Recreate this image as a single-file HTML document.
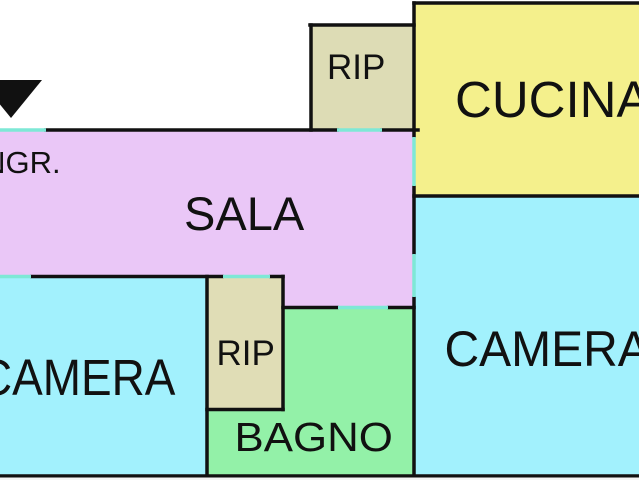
<!DOCTYPE html>
<html>
<head>
<meta charset="utf-8">
<style>
  html,body{margin:0;padding:0;background:#fff;}
  svg{display:block;}
  text{font-family:"Liberation Sans", Arial, sans-serif; fill:#111;}
</style>
</head>
<body>
<svg width="639" height="480" viewBox="0 0 639 480" xmlns="http://www.w3.org/2000/svg">
  <rect x="0" y="0" width="639" height="480" fill="#ffffff"/>
  <!-- fills -->
  <polygon points="0,130 414,130 414,307.5 283,307.5 283,276.5 0,276.5" fill="#eac7f7"/>
  <rect x="0" y="276.5" width="207" height="200" fill="#a2f1fd"/>
  <rect x="207" y="276.5" width="76" height="133" fill="#e0ddb6"/>
  <polygon points="207,409.5 283,409.5 283,307.5 414,307.5 414,476 207,476" fill="#93f1a8"/>
  <rect x="311" y="25" width="103" height="105" fill="#dddcb5"/>
  <rect x="414" y="3" width="225" height="193" fill="#f4f08c"/>
  <rect x="414" y="196" width="225" height="280" fill="#a2f1fd"/>

  <!-- walls -->
  <g stroke="#111" stroke-width="3.5" fill="none" stroke-linecap="square">
    <line x1="46" y1="130" x2="337" y2="130"/>
    <line x1="382" y1="130" x2="418" y2="130"/>
    <line x1="311" y1="25" x2="311" y2="130"/>
    <line x1="310" y1="25" x2="414" y2="25"/>
    <line x1="414" y1="3" x2="639" y2="3"/>
    <line x1="414" y1="3" x2="414" y2="136"/>
    <line x1="414" y1="187" x2="414" y2="253"/>
    <line x1="414" y1="298" x2="414" y2="476"/>
    <line x1="414" y1="196" x2="639" y2="196"/>
    <line x1="32" y1="276.5" x2="222" y2="276.5"/>
    <line x1="271" y1="276.5" x2="283" y2="276.5"/>
    <line x1="283" y1="276.5" x2="283" y2="409.5"/>
    <line x1="207" y1="276.5" x2="207" y2="476"/>
    <line x1="207" y1="409.5" x2="283" y2="409.5"/>
    <line x1="283" y1="307.5" x2="337" y2="307.5"/>
    <line x1="389" y1="307.5" x2="414" y2="307.5"/>
    <line x1="0" y1="476" x2="639" y2="476"/>
  </g>
  <!-- doors (teal) -->
  <g stroke="#7ee8d6" stroke-width="3.5" fill="none">
    <line x1="0" y1="130" x2="46" y2="130"/>
    <line x1="337" y1="130" x2="382" y2="130"/>
    <line x1="414" y1="137" x2="414" y2="186"/>
    <line x1="414" y1="254" x2="414" y2="297"/>
    <line x1="0" y1="276.5" x2="31" y2="276.5"/>
    <line x1="223" y1="276.5" x2="270" y2="276.5"/>
    <line x1="338" y1="307.5" x2="388" y2="307.5"/>
  </g>
  <rect x="0" y="477.5" width="639" height="3" fill="#f4f4f4"/>

  <!-- entrance arrow -->
  <polygon points="-20,80 42,80 11,118" fill="#111"/>

  <!-- labels -->
  <text x="-25.5" y="173" font-size="31">INGR.</text>
  <text x="184" y="230" font-size="47">SALA</text>
  <text x="327" y="79" font-size="35">RIP</text>
  <text x="455" y="117" font-size="51">CUCINA</text>
  <text transform="translate(-21,395) scale(0.9,1)" font-size="51">CAMERA</text>
  <text x="216.5" y="365" font-size="35">RIP</text>
  <text transform="translate(234.5,451) scale(1.07,1)" font-size="41">BAGNO</text>
  <text transform="translate(444.5,366) scale(0.96,1)" font-size="50">CAMERA</text>
</svg>
</body>
</html>
